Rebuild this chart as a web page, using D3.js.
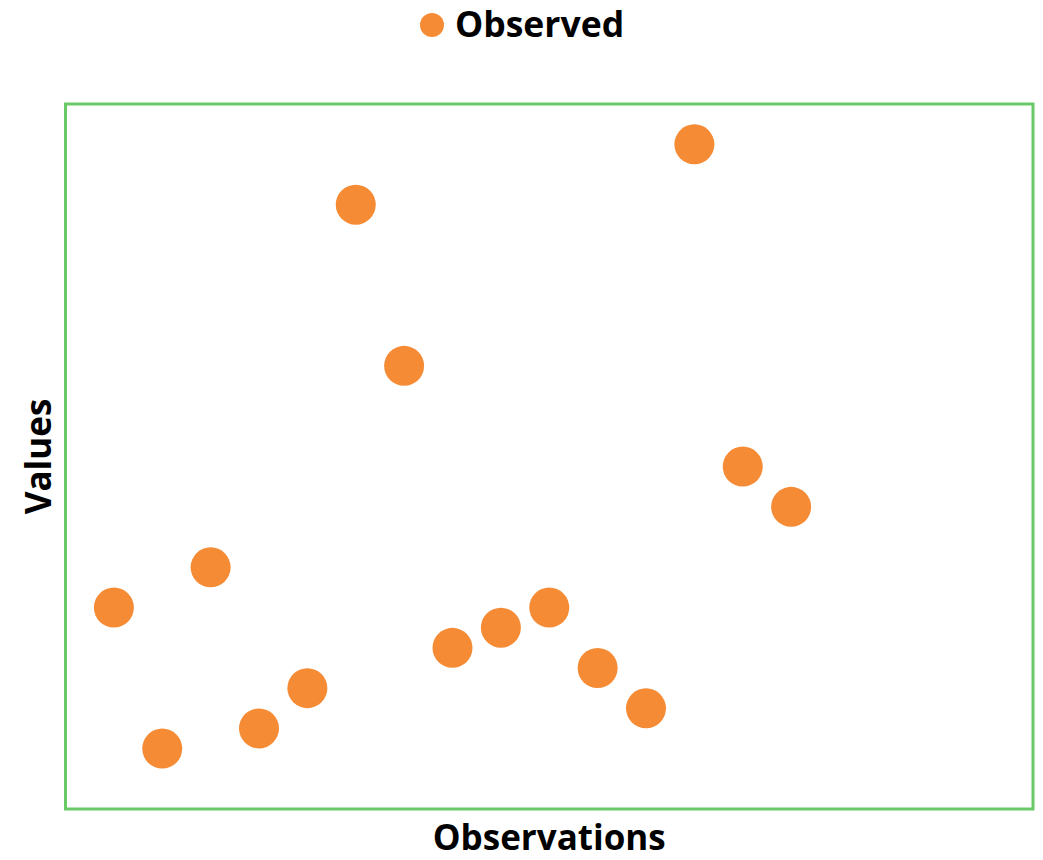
<!DOCTYPE html>
<html>
<head>
<meta charset="utf-8">
<script src="https://cdn.jsdelivr.net/npm/d3@7"></script>
<style>
  html, body { margin: 0; padding: 0; background: #fff; }
  svg text { font-family: "Open Sans", "DejaVu Sans", sans-serif; font-weight: bold; fill: #000; }
</style>
</head>
<body>
<svg id="chart" width="1043" height="860"></svg>
<script>
  // observation index and observed value
  const observations = [1, 2, 3, 4, 5, 6, 7, 8, 9, 10, 11, 12, 13, 14, 15];
  const values = [10, 3, 12, 4, 6, 30, 22, 8, 9, 10, 7, 5, 33, 17, 15];
  const xDomain = [0, 20];
  const yDomain = [0, 35];
  const seriesName = 'Observed';

  const width = 1043;
  const height = 860;
  const margin = { top: 104, right: 10, bottom: 51, left: 65.5 };
  const innerW = width - margin.left - margin.right;
  const innerH = height - margin.top - margin.bottom;
  const orange = '#f58b35';
  const green = '#69c966';

  const svg = d3.select('#chart');
  const g = svg.append('g').attr('transform', 'translate(' + margin.left + ',' + margin.top + ')');

  const x = d3.scaleLinear().domain(xDomain).range([0, innerW]);
  const y = d3.scaleLinear().domain(yDomain).range([innerH, 0]);

  g.append('rect')
    .attr('x', 0).attr('y', 0)
    .attr('width', innerW).attr('height', innerH)
    .attr('fill', 'none')
    .attr('stroke', green)
    .attr('stroke-width', 3);

  const points = observations.map(function (o, i) { return { x: o, y: values[i] }; });

  g.append('g').selectAll('circle')
    .data(points)
    .join('circle')
    .attr('cx', function (d) { return x(d.x); })
    .attr('cy', function (d) { return y(d.y); })
    .attr('r', 20)
    .attr('fill', orange);

  // axis titles
  svg.append('text')
    .attr('x', margin.left + innerW / 2)
    .attr('y', 850)
    .attr('text-anchor', 'middle')
    .attr('font-size', 35)
    .text('Observations');

  svg.append('text')
    .attr('transform', 'translate(51,' + (margin.top + innerH / 2) + ') rotate(-90)')
    .attr('text-anchor', 'middle')
    .attr('font-size', 35)
    .text('Values');

  // legend
  const legend = svg.append('g').attr('transform', 'translate(432,25)');
  legend.append('circle').attr('r', 12).attr('fill', orange);
  legend.append('text')
    .attr('x', 23).attr('y', 12)
    .attr('font-size', 35.5)
    .text(seriesName);
</script>
</body>
</html>
